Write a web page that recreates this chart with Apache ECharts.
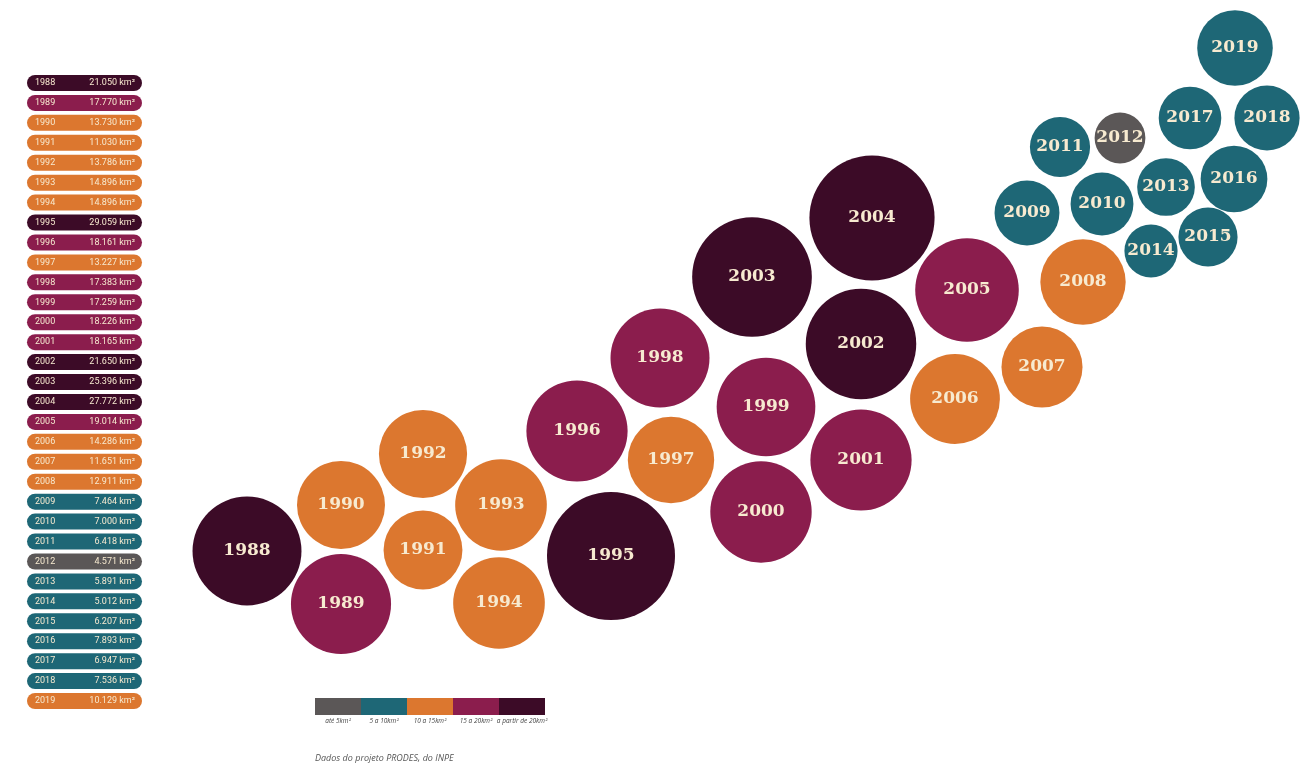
<!DOCTYPE html>
<html>
<head>
<meta charset="utf-8">
<script src="https://cdn.jsdelivr.net/npm/echarts@6/dist/echarts.min.js"></script>
<style>
html,body{margin:0;padding:0;background:#ffffff;}
#chart{width:1308px;height:774px;}
</style>
</head>
<body>
<div id="chart"></div>
<script>
// ---- data ----
const years = ['1988','1989','1990','1991','1992','1993','1994','1995','1996','1997','1998','1999','2000','2001','2002','2003','2004','2005','2006','2007','2008','2009','2010','2011','2012','2013','2014','2015','2016','2017','2018','2019'];
const areas = [21.050,17.770,13.730,11.030,13.786,14.896,14.896,29.059,18.161,13.227,17.383,17.259,18.226,18.165,21.650,25.396,27.772,19.014,14.286,11.651,12.911,7.464,7.000,6.418,4.571,5.891,5.012,6.207,7.893,6.947,7.536,10.129];
// bubble layout positions (packed-layout units)
const bubbleX = [247,341,341,423,423,501,499,611,577,671,660,766,761,861,861,752,872,967,955,1042,1083,1027,1102,1060,1120,1166,1151,1208,1234,1190,1267,1235];
const bubbleY = [551,604,505,550,454,505,603,556,431,460,358,407,512,460,344,277,218,290,399,367,282,213,204,147,138,187,251,237,179,118,118,48];
// colour class shown on each bubble (0: até 5, 1: 5-10, 2: 10-15, 3: 15-20, 4: >20)
const bubbleClass = [4,3,2,2,2,2,2,4,3,2,3,3,3,3,4,4,4,3,2,2,2,1,1,1,0,1,1,1,1,1,1,1];
const legendLabels = ['até 5km²','5 a 10km²','10 a 15km²','15 a 20km²','a partir de 20km²'];
const sourceText = 'Dados do projeto PRODES, do INPE';

// ---- styles ----
const classColors = ['#5b5757','#1e6776','#dc772f','#8b1d4d','#3c0b27'];
const cream = '#f7ead0';
function classOf(v){ return v < 5 ? 0 : v < 10 ? 1 : v < 15 ? 2 : v < 20 ? 3 : 4; }
function fmt(v){ return v.toFixed(3); }

const rich = {};
classColors.forEach((c,i)=>{
  rich['y'+i] = {backgroundColor:c, color:cream, fontFamily:'Roboto', fontSize:9, fontWeight:'normal',
                 width:34, height:10, padding:[3,0,3,8], borderRadius:[8,0,0,8], align:'left'};
  rich['v'+i] = {backgroundColor:c, color:cream, fontFamily:'Roboto', fontSize:9, fontWeight:'normal',
                 width:66, height:10, padding:[3,7,3,0], borderRadius:[0,8,8,0], align:'right'};
});

const bubbleData = years.map((y,i)=>({
  name:y,
  value:[bubbleX[i], bubbleY[i], areas[i]],
  itemStyle:{color: classColors[bubbleClass[i]], opacity:1}
}));

// legend graphic built from arrays
const legendGraphics = [];
const lgX = 315, lgY = 698, lgW = 46, lgH = 17;
legendLabels.forEach((t,i)=>{
  legendGraphics.push({type:'rect', left:lgX+i*lgW, top:lgY, shape:{width:lgW, height:lgH}, style:{fill:classColors[i]}});
  legendGraphics.push({type:'text', x:lgX+i*lgW+lgW/2, y:lgY+lgH+3,
    style:{text:t, fill:'#444', font:'italic 6.5px "Open Sans"', textAlign:'center', textVerticalAlign:'top'}});
});
legendGraphics.push({type:'text', x:315, y:754,
  style:{text:sourceText, fill:'#555', font:'italic 9px "Open Sans"', textAlign:'left', textVerticalAlign:'top'}});

const chart = echarts.init(document.getElementById('chart'), null, {renderer:'canvas'});
chart.setOption({
  backgroundColor:'#ffffff',
  animation:false,
  grid:[
    {left:0, right:0, top:0, bottom:0},
    {left:150, top:73, width:10, height:638}
  ],
  xAxis:[
    {gridIndex:0, type:'value', min:0, max:1308, show:false},
    {gridIndex:1, type:'value', min:0, max:1, show:false}
  ],
  yAxis:[
    {gridIndex:0, type:'value', min:0, max:774, inverse:true, show:false},
    {gridIndex:1, type:'category', data:years, inverse:true,
     axisLine:{show:false}, axisTick:{show:false}, splitLine:{show:false},
     axisLabel:{margin:8, interval:0, rich:rich,
       formatter:(val, idx)=>{ const c = classOf(areas[idx]); return '{y'+c+'|'+val+'}{v'+c+'|'+fmt(areas[idx])+' km²}'; }}
    }
  ],
  graphic:legendGraphics,
  series:[
    {type:'scatter', xAxisIndex:0, yAxisIndex:0, data:bubbleData,
     symbolSize:(val)=>23.75*Math.sqrt(val[2]),
     itemStyle:{opacity:1},
     label:{show:true, position:'inside', formatter:'{b}', color:cream,
            fontFamily:'DejaVu Serif', fontWeight:'bold', fontSize:17},
     emphasis:{disabled:true}
    }
  ]
});
</script>
</body>
</html>
